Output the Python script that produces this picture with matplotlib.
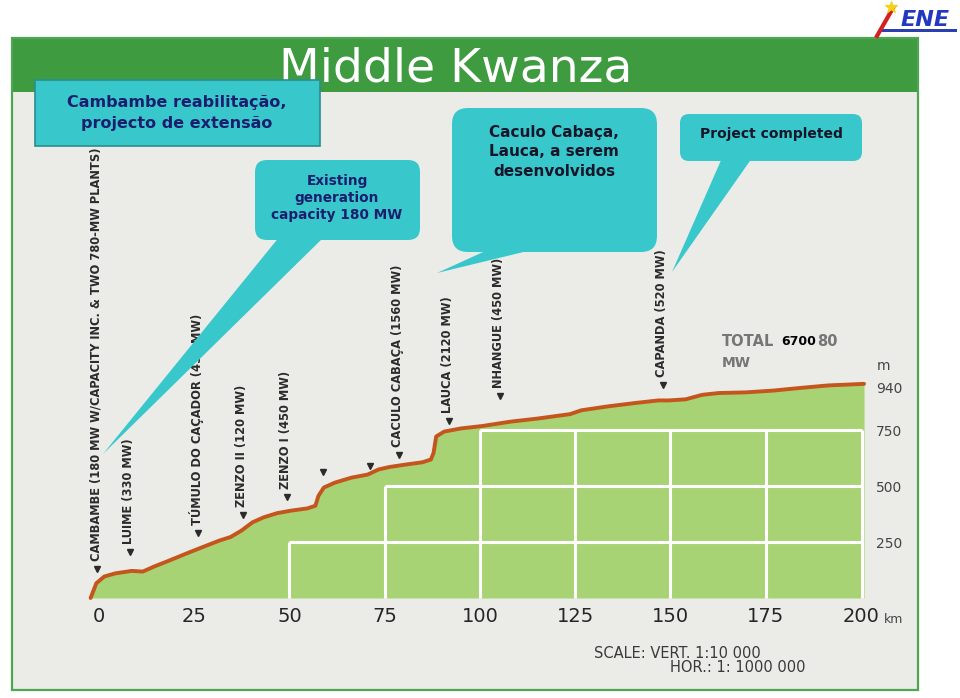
import matplotlib
matplotlib.use("Agg")
import matplotlib.pyplot as plt
from matplotlib.patches import FancyBboxPatch, Polygon, Rectangle
from matplotlib import font_manager as fm
from matplotlib.textpath import TextPath

# ---------------- data ----------------
profile_km = [-2.2, -0.7, 1.4, 4.3, 8.6, 11.5, 14.4, 18.7, 23.0, 27.3, 31.7, 34.5,
              37.4, 40.3, 43.2, 46.8, 50.4, 54.7, 56.8, 57.6, 59.0, 61.9, 66.2, 70.5,
              73.4, 76.3, 80.6, 84.9, 87.1, 87.8, 88.5, 90.6, 95.0, 100.7, 107.9, 115.1,
              123.7, 126.6, 133.8, 141.0, 146.8, 149.6, 154.0, 158.3, 162.6, 169.8,
              177.0, 184.2, 191.4, 200.8]
profile_m = [0, 66, 96, 110, 121, 118, 140, 169, 199, 228, 257, 272,
             301, 338, 360, 379, 390, 400, 412, 456, 493, 515, 537, 551,
             574, 585, 596, 606, 618, 647, 721, 743, 757, 768, 787, 801,
             821, 838, 856, 871, 882, 882, 887, 907, 915, 918,
             926, 938, 949, 956]

x_ticks = [0, 25, 50, 75, 100, 125, 150, 175, 200]
y_ticks = [250, 500, 750, 940]

station_names = ["CAMBAMBE (180 MW W/CAPACITY INC. & TWO 780-MW PLANTS)",
                 "LUIME (330 MW)", "TÚMULO DO CAÇADOR (453 MW)", "ZENZO II (120 MW)",
                 "ZENZO I (450 MW)", "", "", "CACULO CABAÇA (1560 MW)",
                 "LAUCA (2120 MW)", "NHANGUE (450 MW)", "CAPANDA (520 MW)"]
station_km = [-0.5, 8.1, 26.0, 37.8, 49.3, 58.8, 71.1, 78.7, 91.9, 105.2, 148.0]
station_m = [129, 205, 290, 371, 451, 562, 589, 638, 790, 902, 951]

grid_vert_x = [50, 75, 100, 125, 150, 175, 200.3]
grid_vert_top = [250, 500, 750, 750, 750, 750, 750]
grid_horiz_y = [250, 500, 750]
grid_horiz_start = [50, 75, 100]


# ---------------- fonts ----------------
def pick_condensed():
    best = None
    for f in fm.fontManager.ttflist:
        nm = f.name.lower()
        st = f.stretch
        cond = ("narrow" in nm or "condensed" in nm
                or (isinstance(st, str) and "condensed" in st and "semi" not in st)
                or (isinstance(st, (int, float)) and st < 450))
        if not cond or f.style != "normal":
            continue
        if "mono" in nm or ("serif" in nm and "sans" not in nm):
            continue
        w = f.weight
        if not isinstance(w, (int, float)):
            w = {"bold": 700, "normal": 400, "regular": 400, "medium": 500,
                 "semibold": 600, "light": 300}.get(str(w).lower(), 400)
        score = -abs(w - 650)
        if best is None or score > best[0]:
            best = (score, f.fname)
    return best[1] if best else None


cpath = pick_condensed()
if cpath:
    st_fp = fm.FontProperties(fname=cpath)
else:
    st_fp = fm.FontProperties(family="DejaVu Sans", weight="bold")
# size chosen so that "CAPANDA (520 MW)" is ~127 px long, as in the reference
ref_w = TextPath((0, 0), "CAPANDA (520 MW)", size=10, prop=st_fp).get_extents().width * 100 / 72
st_size = min(13.0, 10 * 127 / ref_w)
st_fp.set_size(st_size)

W, H = 960, 698
fig = plt.figure(figsize=(W / 100, H / 100), dpi=100)
fig.patch.set_facecolor("white")

PX_L, PX_R, PY_T, PY_B = 12, 918, 92, 690
X0PX, XSCALE = 99.0, 3.81
Y0PX, YSCALE = 598.0, 0.224

ax = fig.add_axes([PX_L / W, (H - PY_B) / H, (PX_R - PX_L) / W, (PY_B - PY_T) / H])
ax.set_facecolor("#ebece8")
ax.set_xlim((PX_L - X0PX) / XSCALE, (PX_R - X0PX) / XSCALE)
ax.set_ylim((Y0PX - PY_B) / YSCALE, (Y0PX - PY_T) / YSCALE)
for s in ax.spines.values():
    s.set_visible(False)

green = "#a8d375"
ax.fill_between(profile_km, 0, profile_m, color=green, lw=0, zorder=1)
for x, top in zip(grid_vert_x, grid_vert_top):
    ax.plot([x, x], [0, top], color="white", lw=2.2, zorder=2, solid_capstyle="butt")
for y, x0 in zip(grid_horiz_y, grid_horiz_start):
    ax.plot([x0, 200.3], [y, y], color="white", lw=2.2, zorder=2, solid_capstyle="butt")
ax.plot(profile_km, profile_m, color="#c4561d", lw=2.8, zorder=3, solid_capstyle="round")

ax.plot(station_km, station_m, linestyle="none", marker="v", ms=4,
        color="#2b2b2b", zorder=4)
for name, km, m in zip(station_names, station_km, station_m):
    if name:
        ax.text(km - 0.4, m + 36, name, rotation=90, ha="center", va="bottom",
                fontproperties=st_fp, color="#2b2b2b", zorder=4)

ax.set_xticks(x_ticks)
ax.set_xticklabels([str(v) for v in x_ticks])
ax.tick_params(axis="x", length=0, pad=-60, labelsize=14, labelcolor="#262626")
ax.yaxis.tick_right()
ax.set_yticks(y_ticks)
ax.set_yticklabels([str(v) for v in y_ticks])
ax.tick_params(axis="y", length=0, pad=-30, labelsize=10, labelcolor="#454545")

# ---------------- overlay (pixel coords) ----------------
ov = fig.add_axes([0, 0, 1, 1], zorder=5)
ov.set_xlim(0, W)
ov.set_ylim(H, 0)
ov.axis("off")
ov.patch.set_alpha(0)

ov.add_patch(Rectangle((PX_L, 38), PX_R - PX_L, PY_T - 38, fc="#3e9b40", ec="none", zorder=1))
ov.add_patch(Rectangle((PX_L, 38), PX_R - PX_L, PY_B - 38, fc="none", ec="#4ea653", lw=1.6, zorder=2))
ov.text(456, 81, "Middle Kwanza", color="white", fontsize=34, ha="center",
        va="baseline", family="DejaVu Sans", zorder=3)

ov.text(884, 370, "m", fontsize=10, color="#454545", ha="center", va="baseline", zorder=3)
ov.text(894, 623, "km", fontsize=9, color="#454545", ha="center", va="baseline", zorder=3)
ov.text(594, 658, "SCALE: VERT. 1:10 000", fontsize=10.5, color="#3a3a3a", ha="left",
        va="baseline", zorder=3)
ov.text(670, 672, "HOR.: 1: 1000 000", fontsize=10.5, color="#3a3a3a", ha="left",
        va="baseline", zorder=3)
ov.text(722, 346, "TOTAL", fontsize=10.5, color="#767676", ha="left", va="baseline",
        fontweight="bold", zorder=3)
ov.text(838, 346, "80", fontsize=10.5, color="#767676", ha="right", va="baseline",
        fontweight="bold", zorder=3)
ov.text(722, 367, "MW", fontsize=10, color="#767676", ha="left", va="baseline",
        fontweight="bold", zorder=3)
ov.text(799, 345, "6700", fontsize=9, color="black", ha="center", va="baseline",
        fontweight="bold", zorder=4)

box_c = "#38c8cb"
txt_c = "#1b1d6e"
ov.add_patch(Rectangle((35, 80), 285, 66, fc=box_c, ec="#2a8e90", lw=1.2, zorder=6))
ov.text(177, 113, "Cambambe reabilitação,\nprojecto de extensão", ha="center", va="center",
        fontsize=11.5, fontweight="bold", color=txt_c, linespacing=1.45, zorder=7)

ov.add_patch(Polygon([(280, 236), (325, 236), (103, 454)], closed=True, fc=box_c, ec="none", zorder=6))
ov.add_patch(FancyBboxPatch((255, 160), 165, 80, boxstyle="round,pad=0,rounding_size=12",
                            fc=box_c, ec="none", zorder=6))
ov.text(337, 198, "Existing\ngeneration\ncapacity 180 MW", ha="center", va="center",
        fontsize=9.8, fontweight="bold", color=txt_c, linespacing=1.3, zorder=7)

ov.add_patch(Polygon([(492, 248), (540, 248), (437, 273)], closed=True, fc=box_c, ec="none", zorder=6))
ov.add_patch(FancyBboxPatch((452, 108), 205, 144, boxstyle="round,pad=0,rounding_size=16",
                            fc=box_c, ec="none", zorder=6))
ov.text(554, 152, "Caculo Cabaça,\nLauca, a serem\ndesenvolvidos", ha="center", va="center",
        fontsize=11, fontweight="bold", color="#16162a", linespacing=1.4, zorder=7)

ov.add_patch(Polygon([(722, 158), (752, 158), (672, 272)], closed=True, fc=box_c, ec="none", zorder=6))
ov.add_patch(FancyBboxPatch((680, 114), 182, 47, boxstyle="round,pad=0,rounding_size=9",
                            fc=box_c, ec="none", zorder=6))
ov.text(771, 134, "Project completed", ha="center", va="center",
        fontsize=10, fontweight="bold", color="#16162a", zorder=7)

ov.add_patch(Rectangle((880, 29), 77, 3, fc="#2a3fb0", ec="none", zorder=3))
ov.plot([877, 893], [36, 8], color="#d42020", lw=3, zorder=4)
ov.plot([891], [7], marker="*", ms=9, color="#f2d21b", zorder=5)
ov.text(925, 26, "ENE", fontsize=16, fontweight="bold", fontstyle="italic",
        color="#2238c0", ha="center", va="baseline", zorder=4)

fig.savefig("out.png", dpi=100, facecolor="white")
